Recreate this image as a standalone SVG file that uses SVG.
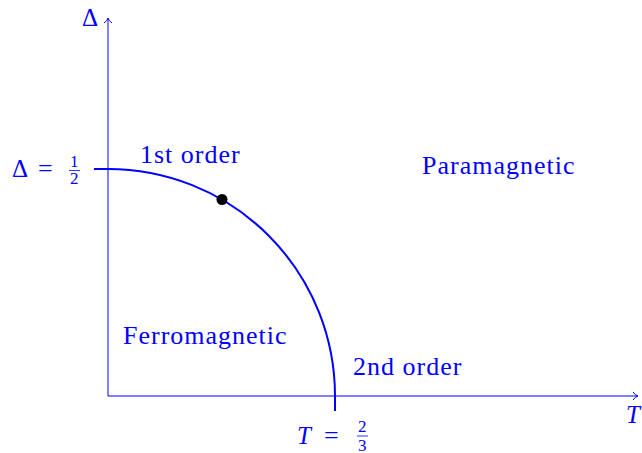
<svg xmlns="http://www.w3.org/2000/svg" width="642" height="453" viewBox="0 0 642 453">
<defs>
<style>
.ax{stroke:#0000ff;stroke-width:1;fill:none}
.cv{stroke:#0000ff;stroke-width:2;fill:none}
text{font-family:'Liberation Serif',serif;fill:#0000ff}
.lb{font-size:26px;letter-spacing:1px}
.fr{font-size:17px}
</style>
<marker id="ah" markerWidth="10" markerHeight="10" refX="8" refY="5" orient="auto" markerUnits="userSpaceOnUse">
<path d="M3,1 Q5,4 8,5 Q5,6 3,9" fill="none" stroke="#0000ff" stroke-width="1"/>
</marker>
</defs>
<rect width="642" height="453" fill="#ffffff"/>
<g id="connectors">
<line class="ax" x1="108" y1="396" x2="108" y2="18" marker-end="url(#ah)"/>
<line class="ax" x1="108" y1="396" x2="638" y2="396" marker-end="url(#ah)"/>
<path class="cv" d="M94,169 L108,169 A227,227 0 0 1 335,396 L335,411"/>
</g>
<g id="critical-point">
<circle cx="222" cy="199.5" r="5.5" fill="#000000"/>
</g>
<g id="labels">
<text font-size="25" x="82" y="26">&#916;</text>
<text font-size="25" font-style="italic" x="626" y="423">T</text>
<text class="lb" x="140" y="163">1st order</text>
<text class="lb" x="422" y="174">Paramagnetic</text>
<text class="lb" x="123" y="344">Ferromagnetic</text>
<text class="lb" x="353" y="375">2nd order</text>
</g>
<g id="delta-half">
<text font-size="25" x="12" y="177">&#916;</text>
<text font-size="26" x="38" y="177">=</text>
<text class="fr" x="70" y="167">1</text>
<line x1="69" y1="170.5" x2="80" y2="170.5" stroke="#0000ff" stroke-width="0.8"/>
<text class="fr" x="70" y="184">2</text>
</g>
<g id="t-twothirds">
<text font-size="25" font-style="italic" x="297" y="444">T</text>
<text font-size="26" x="324" y="444">=</text>
<text class="fr" x="358" y="432">2</text>
<line x1="357" y1="436" x2="368" y2="436" stroke="#0000ff" stroke-width="0.8"/>
<text class="fr" x="358" y="451">3</text>
</g>
</svg>
